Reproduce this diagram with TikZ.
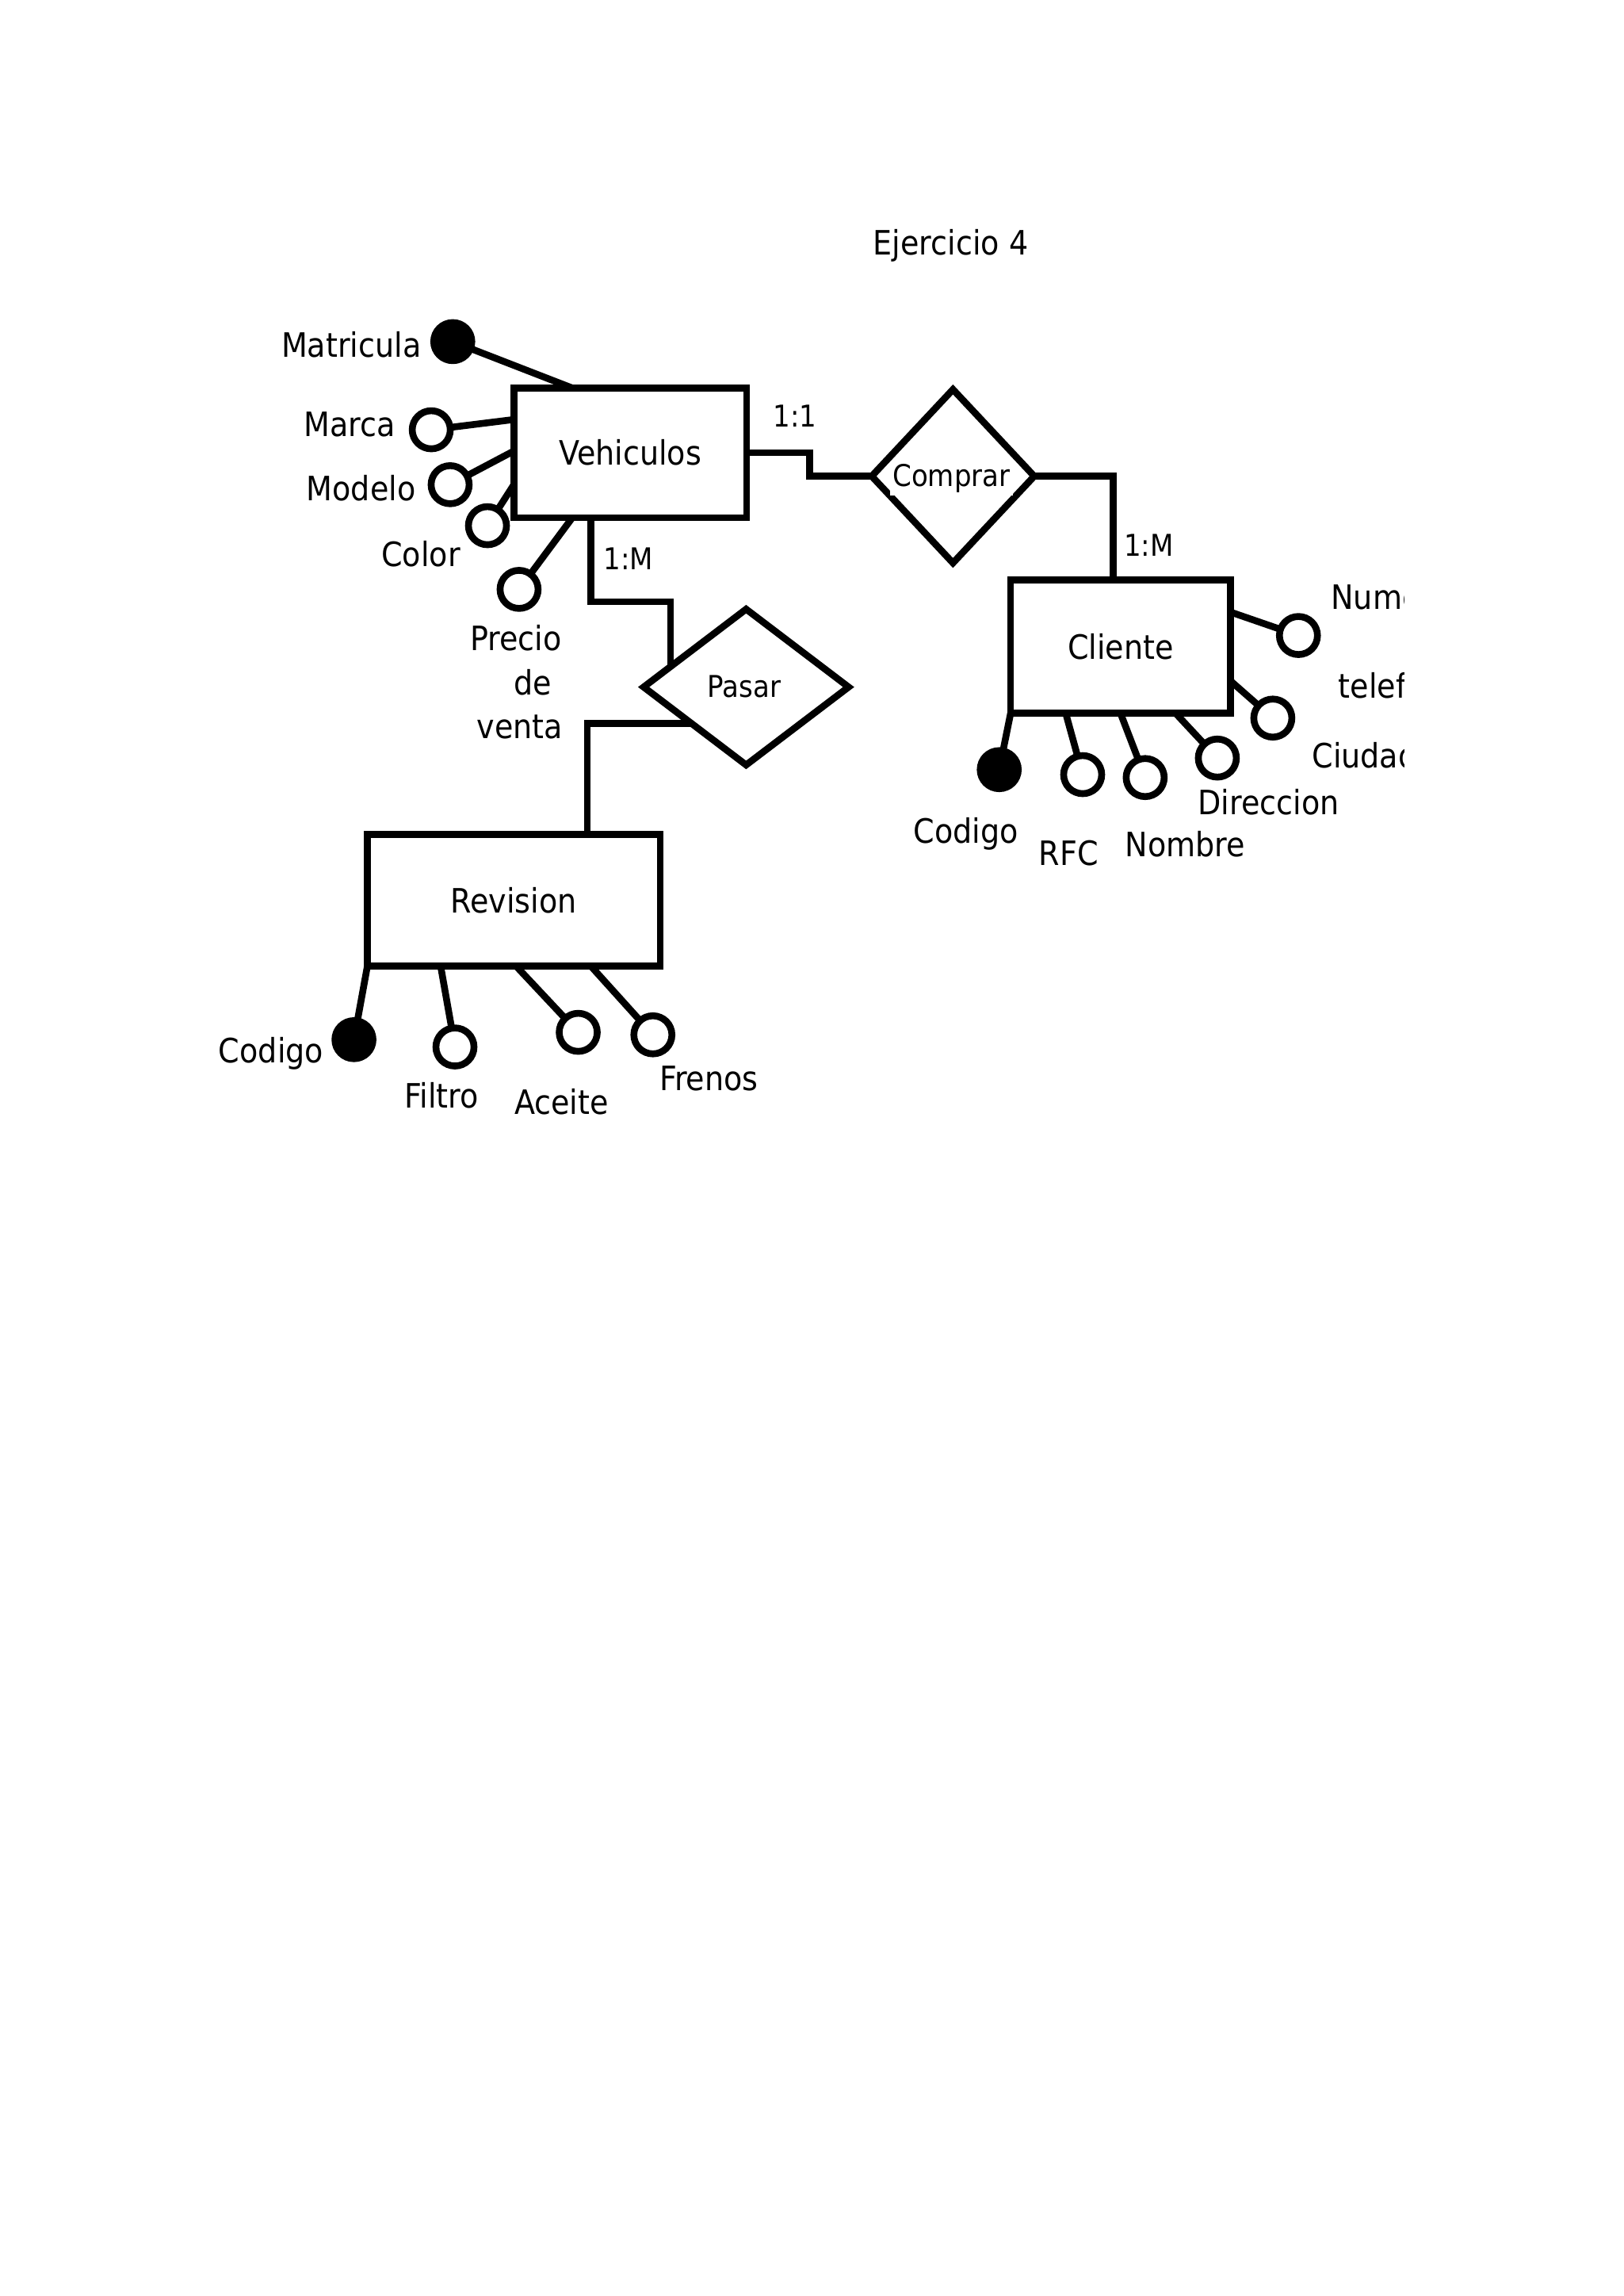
\documentclass[tikz,border=0pt]{standalone}
\usepackage{fontspec}
\setmainfont{DejaVu Sans Condensed}
\usetikzlibrary{shapes.geometric,calc}
\def\U{0.53677pt}
\begin{document}
\begin{tikzpicture}[x=0.53677pt,y=-0.53677pt,
  line width=2.5pt,
  entity/.style={draw, rectangle, inner sep=0pt, outer sep=0pt, font=\fontsize{12.3}{14}\selectfont},
  rel/.style={draw, diamond, inner sep=0pt, outer sep=0pt},
  attro/.style={draw, circle, inner sep=0pt, outer sep=0pt, minimum size=26*\U, fill=white},
  attrk/.style={draw, circle, inner sep=0pt, outer sep=0pt, minimum size=26*\U, fill=black},
  lbl/.style={inner sep=0pt, font=\fontsize{12.3}{14}\selectfont, anchor=base},
  lblw/.style={inner sep=0pt, font=\fontsize{12.3}{14}\selectfont, anchor=base west},
  card/.style={inner sep=0pt, font=\fontsize{11}{13}\selectfont, anchor=base},
  rlbl/.style={inner sep=0pt, font=\fontsize{11}{13}\selectfont, anchor=base},
]
\useasboundingbox (0,0) rectangle (1109,1568);

\node[lbl] (title) at (649.5,173.8) {Ejercicio 4};

% entities
\node[entity, minimum width=159*\U, minimum height=88.5*\U] (veh) at (430.5,309.25) {Vehiculos};
\node[entity, minimum width=150.2*\U, minimum height=91*\U] (cli) at (765.5,441.5) {Cliente};
\node[entity, minimum width=200*\U, minimum height=89.6*\U] (rev) at (351,614.8) {Revision};

% relationships
\node[rel, minimum width=111*\U, minimum height=118.5*\U, aspect=0.94] (comprar) at (651,325.2) {};
\node[rel, minimum width=140*\U, minimum height=106.4*\U, aspect=1.3] (pasar) at (509.7,469.2) {};
\node[rlbl, fill=white, inner xsep=1pt, inner ysep=1pt] (comprarl) at (650,332.4) {Comprar};
\node[rlbl] (pasarl) at (508.4,476.3) {Pasar};

% connectors between entities and relationships
\draw (veh.east) -- ++(43,0) |- (comprar.west);
\draw (comprar.east) -| ($(cli.north west)+(69.9,0)$);
\coordinate (pv) at ($(pasar.west)!0.262!(pasar.north)$);
\draw ($(veh.south west)+(52.5,0)$) -- ++(0,57.5) -| (pv);
\coordinate (pr) at ($(pasar.west)!0.47!(pasar.south)$);
\draw (pr) -| ($(rev.north)+(50.3,0)$);

\node[card] (c11) at (543,291.4) {1:1};
\node[card] (c1m) at (429.3,389) {1:M};
\node[card] (c1mb) at (784.7,379.6) {1:M};

% Vehiculos attributes
\node[attrk] (matr) at (309.3,233.3) {};
\draw ($(veh.north west)+(40,0)$) -- (matr);
\node[attro] (marca) at (294.6,293.5) {};
\draw ($(veh.north west)+(0,21.5)$) -- (marca);
\node[attro] (modelo) at (307.5,331) {};
\draw ($(veh.north west)+(0,43)$) -- (modelo);
\node[attro] (color) at (333,359) {};
\draw ($(veh.north west)+(0,66)$) -- (color);
\node[attro] (precio) at (354.6,402.5) {};
\draw ($(veh.south west)+(40,0)$) -- (precio);

\node[lbl] (lmatr) at (240,243.7) {Matricula};
\node[lbl] (lmarca) at (239,297.8) {Marca};
\node[lbl] (lmodelo) at (246.7,342) {Modelo};
\node[lbl] (lcolor) at (287.5,386.7) {Color};
\node[lbl] (lprecio1) at (352.3,444) {Precio};
\node[lbl] (lprecio2) at (363.8,474.4) {de};
\node[lbl] (lprecio3) at (355.1,504.5) {venta};

% Cliente attributes
\node[attro] (num) at (887,434) {};
\draw ($(cli.north east)+(0,22)$) -- (num);
\node[attro] (ciudad) at (869.5,490.4) {};
\draw ($(cli.north east)+(0,69)$) -- (ciudad);
\node[attrk] (ccod) at (682.6,525.6) {};
\draw (cli.south west) -- (ccod);
\node[attro] (rfc) at (739.6,529) {};
\draw ($(cli.south west)+(37.6,0)$) -- (rfc);
\node[attro] (nombre) at (782.3,531) {};
\draw ($(cli.south west)+(75,0)$) -- (nombre);
\node[attro] (dir) at (831.6,517.7) {};
\draw ($(cli.south west)+(112.6,0)$) -- (dir);

\begin{scope}
\clip (880,380) rectangle (959.4,545);
\node[lblw] (lnum) at (907,416) {Numero};
\node[lblw] (ltel) at (912,476.5) {telefono};
\node[lblw] (lciu) at (894,524.6) {Ciudad};
\end{scope}
\node[lbl] (lccod) at (660,576) {Codigo};
\node[lbl] (lrfc) at (730,590.8) {RFC};
\node[lbl] (lnom) at (809.5,584.8) {Nombre};
\node[lbl] (ldir) at (866.5,556.4) {Direccion};

% Revision attributes
\node[attrk] (rcod) at (241.8,710) {};
\draw (rev.south west) -- (rcod);
\node[attro] (filtro) at (310.8,715) {};
\draw ($(rev.south west)+(50,0)$) -- (filtro);
\node[attro] (aceite) at (395,705) {};
\draw ($(rev.south west)+(101.4,0)$) -- (aceite);
\node[attro] (frenos) at (446,706.7) {};
\draw ($(rev.south west)+(152.5,0)$) -- (frenos);

\node[lbl] (lrcod) at (185.2,725.6) {Codigo};
\node[lbl] (lfil) at (301.7,756.6) {Filtro};
\node[lbl] (lace) at (383.5,760.8) {Aceite};
\node[lbl] (lfre) at (484.3,745) {Frenos};
\end{tikzpicture}
\end{document}
